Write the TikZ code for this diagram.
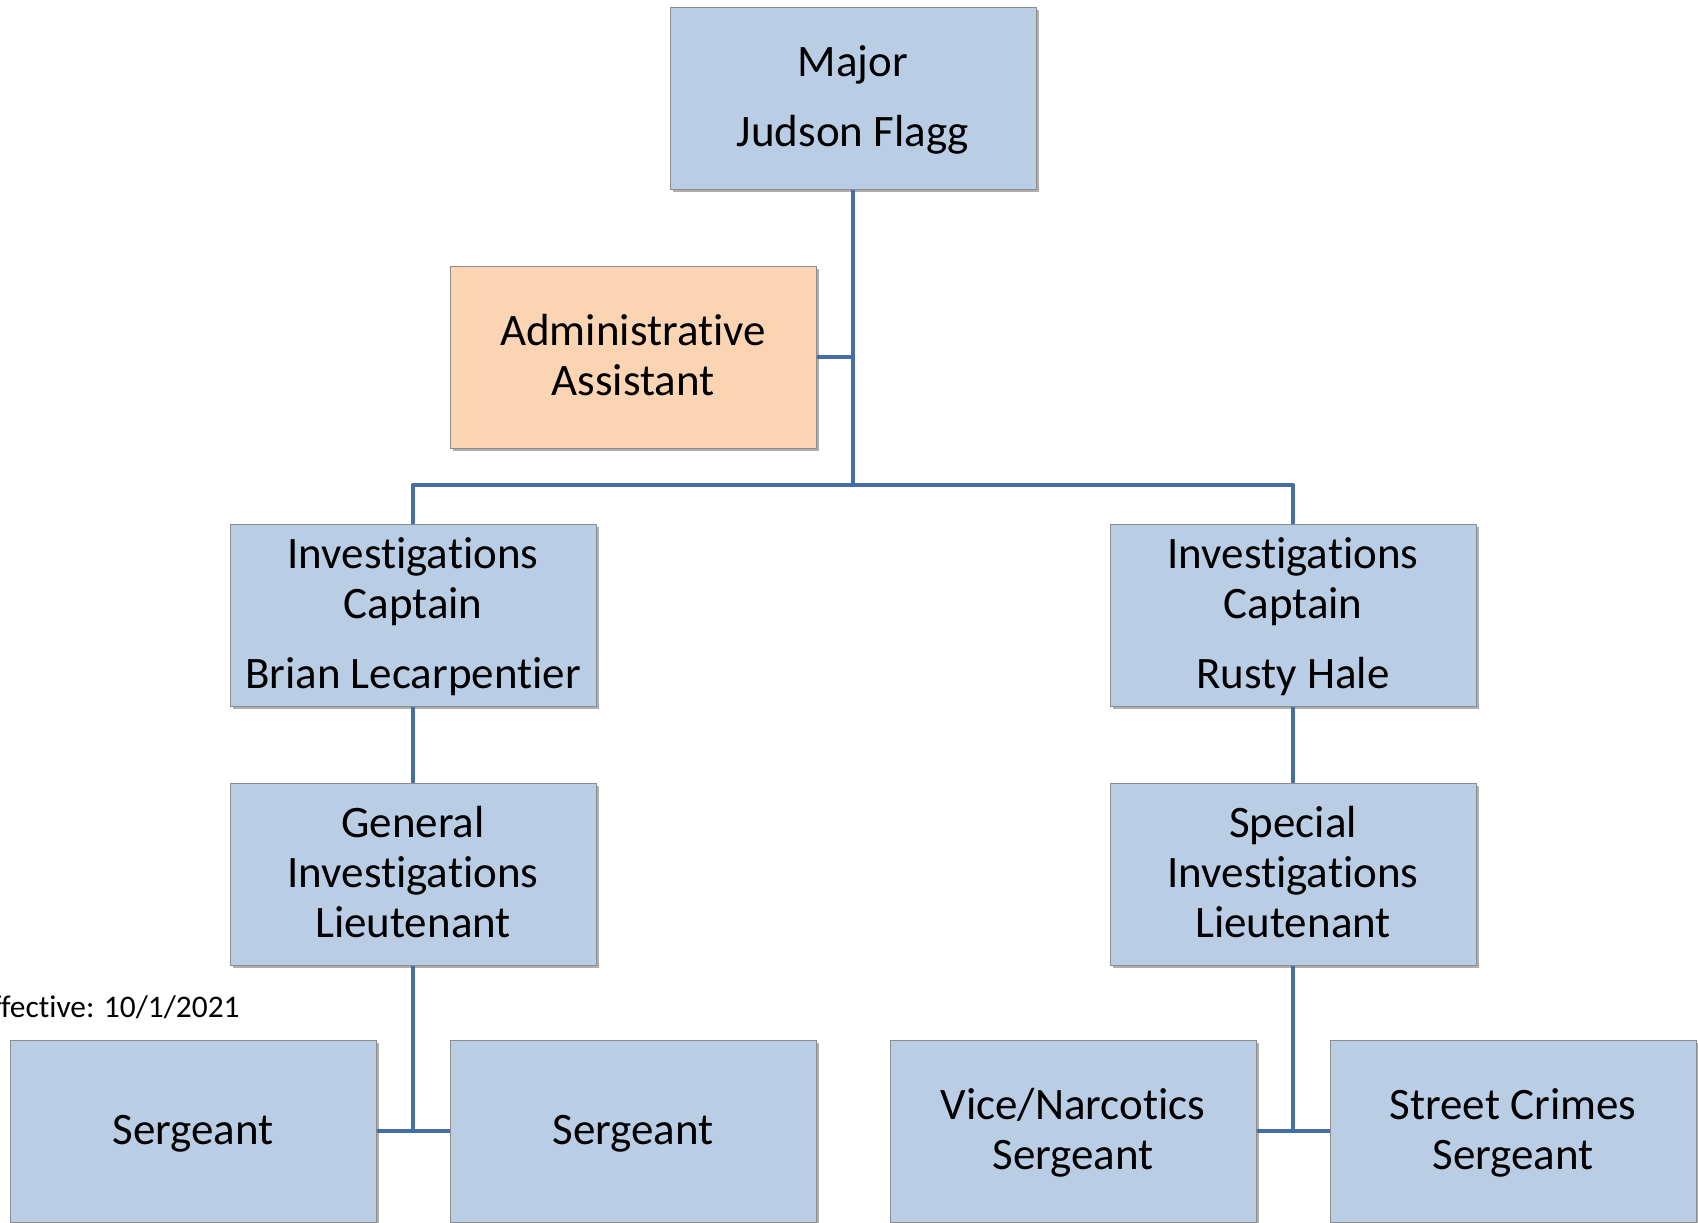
\documentclass[tikz,border=0pt]{standalone}
\usepackage{fontspec}
\setmainfont{Carlito}[Ligatures=CommonOff]
\usetikzlibrary{shadows}

\definecolor{boxblue}{RGB}{185,205,229}
\definecolor{boxpeach}{RGB}{251,212,180}
\definecolor{boxedge}{RGB}{140,140,140}
\definecolor{linkblue}{RGB}{68,110,165}

% line box of one text line in a post
\newcommand{\poststrut}{\rule[-6pt]{0pt}{25pt}}

\begin{document}
\begin{tikzpicture}[x=0.5pt,y=-0.5pt]

% Define box and connector style
\tikzstyle{post} =[rectangle, draw=boxedge, line width=0.5pt, fill=boxblue,
                   minimum width=183pt, minimum height=91pt, inner sep=0pt,
                   align=center, font=\fontsize{22.5}{25}\selectfont,
                   execute at end node=\poststrut,
                   drop shadow={shadow xshift=1.5pt, shadow yshift=-1.5pt,
                                opacity=0.45, fill=black!70}]
\tikzstyle{link} =[draw=linkblue, line width=2pt, line join=round]

\useasboundingbox (0,0) rectangle (1698,1222);

% top of the chart
\node[post] (major) at (853,98) {\poststrut Major\\[10pt]Judson Flagg};
\node[post, fill=boxpeach] (admin) at (633,357) {\poststrut Administrative\\Assistant};

% the two branches
\node[post] (capL) at (413,615) {\poststrut Investigations\\Captain\\[10pt]Brian Lecarpentier};
\node[post] (capR) at (1293,615) {\poststrut Investigations\\Captain\\[10pt]Rusty Hale};
\node[post] (ltL) at (413,874) {\poststrut General\\Investigations\\Lieutenant};
\node[post] (ltR) at (1293,874) {\poststrut Special\\Investigations\\Lieutenant};

% sergeants
\node[post] (sgtA) at (193,1131) {\poststrut Sergeant};
\node[post] (sgtB) at (633,1131) {\poststrut Sergeant};
\node[post] (vice) at (1073,1131) {\poststrut Vice/Narcotics\\Sergeant};
\node[post] (street) at (1513,1131) {\poststrut Street Crimes\\Sergeant};

\node[anchor=base east, inner sep=0pt, font=\fontsize{15.7}{19}\selectfont] (eff)
  at (240,1017) {Effective: 10/1/2021};

% connectors
\coordinate (bus) at (853,485);
\draw[link] (major.south) -- (bus);
\draw[link] (admin.east) -- (admin.east -| bus);
\draw[link] (capL.north) |- (bus) -| (capR.north);
\draw[link] (capL.south) -- (ltL.north);
\draw[link] (capR.south) -- (ltR.north);
\draw[link] (ltL.south) -- (ltL.south |- sgtA.east);
\draw[link] (sgtA.east) -- (sgtB.west);
\draw[link] (ltR.south) -- (ltR.south |- vice.east);
\draw[link] (vice.east) -- (street.west);

\end{tikzpicture}
\end{document}
